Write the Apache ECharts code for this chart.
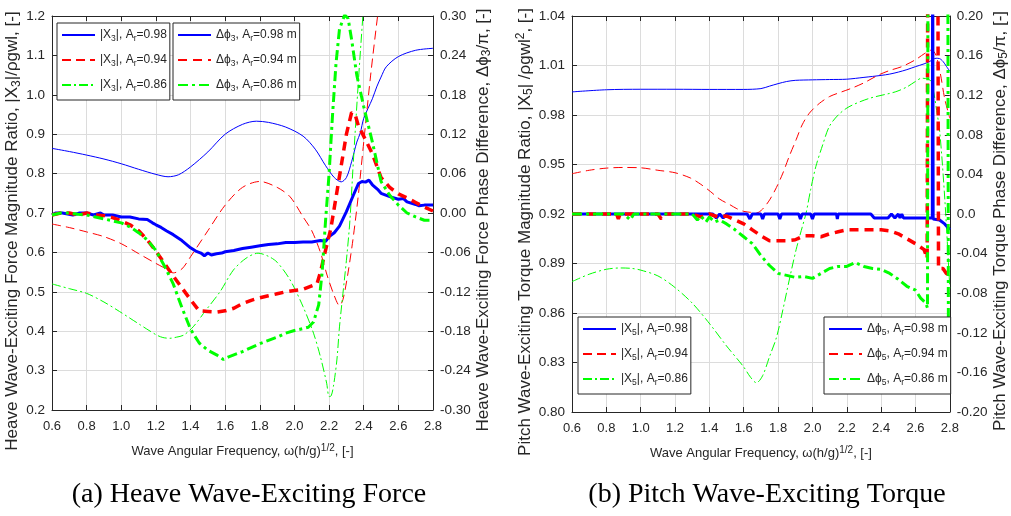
<!DOCTYPE html>
<html><head><meta charset="utf-8">
<script src="https://cdn.jsdelivr.net/npm/echarts@6/dist/echarts.min.js"></script>
<style>html,body{margin:0;padding:0;background:#fff}#c{width:1011px;height:516px}</style>
</head><body><div id="c"></div><script>
// ---------- (a) Heave: magnitude ratios (left axis) ----------
const hX98 = [0.6,0.7,0.8,0.9,1.0,1.1,1.2,1.27,1.33,1.4,1.5,1.6,1.7,1.78,1.85,1.95,2.05,2.12,2.18,2.23,2.27,2.3,2.33,2.36,2.38,2.4,2.45,2.475,2.5,2.53,2.6,2.7,2.8];
const hMag98 = [0.864,0.856,0.847,0.837,0.825,0.811,0.798,0.792,0.797,0.817,0.855,0.9,0.925,0.933,0.93,0.918,0.895,0.862,0.82,0.79,0.779,0.79,0.83,0.88,0.903,0.94,0.99,1.02,1.045,1.071,1.097,1.113,1.118];
const hX94 = [0.6,0.7,0.8,0.9,1.0,1.1,1.2,1.26,1.3,1.35,1.4,1.5,1.6,1.7,1.8,1.9,1.975,2.05,2.1,2.15,2.19,2.23,2.26,2.28,2.31,2.34,2.37,2.4,2.44,2.48,2.5];
const hMag94 = [0.672,0.663,0.652,0.64,0.622,0.597,0.572,0.558,0.548,0.558,0.589,0.655,0.72,0.765,0.78,0.765,0.741,0.69,0.655,0.6,0.54,0.49,0.465,0.48,0.55,0.64,0.75,0.88,1.05,1.2,1.27];
const hX86 = [0.6,0.7,0.8,0.9,0.99,1.05,1.11,1.16,1.205,1.24,1.28,1.32,1.36,1.415,1.49,1.57,1.647,1.72,1.79,1.85,1.9,1.975,2.05,2.11,2.15,2.186,2.2,2.212,2.225,2.245,2.26,2.28,2.3,2.32,2.34,2.37,2.395,2.41];
const hMag86 = [0.52,0.508,0.496,0.474,0.45,0.433,0.416,0.402,0.39,0.384,0.382,0.385,0.39,0.411,0.454,0.50,0.555,0.585,0.598,0.59,0.575,0.53,0.462,0.395,0.335,0.268,0.234,0.236,0.26,0.327,0.411,0.496,0.58,0.68,0.83,1.04,1.2,1.29];
// ---------- (a) Heave: phase differences (right axis) ----------
const hPX98 = [0.6,0.62,0.66,0.72,0.76,0.8,0.84,0.88,0.9,0.95,1.0,1.05,1.1,1.15,1.18,1.2,1.23,1.26,1.3,1.35,1.4,1.43,1.46,1.48,1.5,1.52,1.55,1.58,1.6,1.65,1.7,1.75,1.8,1.85,1.9,1.95,2.0,2.05,2.1,2.15,2.18,2.2,2.23,2.26,2.3,2.34,2.37,2.39,2.41,2.43,2.45,2.48,2.5,2.55,2.6,2.63,2.65,2.7,2.72,2.75,2.8];
const hPh98 = [-0.003,0,0,-0.003,0,0,-0.003,0,-0.003,-0.003,-0.006,-0.006,-0.009,-0.010,-0.015,-0.018,-0.022,-0.027,-0.033,-0.042,-0.053,-0.058,-0.061,-0.065,-0.061,-0.064,-0.062,-0.061,-0.059,-0.057,-0.054,-0.052,-0.050,-0.048,-0.047,-0.045,-0.045,-0.044,-0.044,-0.042,-0.043,-0.036,-0.030,-0.020,0.002,0.027,0.045,0.048,0.047,0.050,0.043,0.036,0.030,0.025,0.021,0.022,0.017,0.013,0.011,0.012,0.012];
const hPX94 = [0.6,0.65,0.7,0.75,0.8,0.85,0.9,0.95,1.0,1.05,1.1,1.15,1.2,1.25,1.3,1.35,1.4,1.45,1.5,1.55,1.6,1.65,1.7,1.75,1.8,1.85,1.9,1.95,2.0,2.05,2.1,2.13,2.15,2.18,2.21,2.24,2.27,2.3,2.33,2.35,2.37,2.4,2.45,2.5,2.55,2.6,2.65,2.7,2.75,2.8];
const hPh94 = [-0.003,0,0,-0.003,0,-0.003,-0.004,-0.007,-0.012,-0.018,-0.027,-0.041,-0.058,-0.077,-0.096,-0.114,-0.132,-0.149,-0.150,-0.151,-0.149,-0.145,-0.138,-0.133,-0.129,-0.126,-0.123,-0.120,-0.118,-0.116,-0.111,-0.108,-0.090,-0.056,-0.024,0.024,0.072,0.120,0.153,0.150,0.132,0.117,0.090,0.054,0.039,0.029,0.023,0.016,0.009,0.003];
const hPX86 = [0.6,0.65,0.7,0.75,0.8,0.85,0.9,0.95,1.0,1.05,1.1,1.15,1.2,1.25,1.3,1.35,1.4,1.45,1.5,1.55,1.59,1.62,1.65,1.7,1.75,1.8,1.85,1.9,1.95,2.0,2.05,2.08,2.11,2.14,2.16,2.18,2.2,2.22,2.24,2.26,2.29,2.31,2.33,2.36,2.4,2.45,2.5,2.55,2.6,2.65,2.7,2.75,2.8];
const hPh86 = [-0.003,0,0,-0.002,-0.003,-0.006,-0.009,-0.012,-0.015,-0.021,-0.030,-0.041,-0.057,-0.081,-0.108,-0.144,-0.177,-0.198,-0.209,-0.216,-0.223,-0.219,-0.216,-0.211,-0.205,-0.199,-0.194,-0.189,-0.183,-0.179,-0.176,-0.174,-0.166,-0.140,-0.090,-0.010,0.060,0.150,0.228,0.280,0.302,0.296,0.264,0.210,0.162,0.108,0.048,0.027,0.012,0,-0.006,-0.011,-0.011];

// ---------- (b) Pitch: magnitude ratios (left axis) ----------
const pX98 = [0.6,0.8,1.0,1.2,1.4,1.6,1.7,1.75,1.8,1.85,1.9,2.0,2.1,2.2,2.3,2.4,2.45,2.5,2.55,2.6,2.65,2.68,2.72,2.74,2.76,2.78,2.8];
const pMag98 = [0.994,0.9953,0.9956,0.9956,0.9955,0.9955,0.996,0.9975,0.999,1.0003,1.001,1.0013,1.0015,1.0017,1.0028,1.004,1.0048,1.006,1.0075,1.0093,1.011,1.0123,1.0144,1.0142,1.0125,1.0095,1.0065];
const pX94 = [0.6,0.7,0.8,0.9,1.0,1.1,1.2,1.29,1.35,1.405,1.46,1.52,1.56,1.6,1.64,1.674,1.71,1.751,1.79,1.828,1.865,1.905,1.94,1.982,2.04,2.1,2.17,2.23,2.3,2.386,2.45,2.52,2.6,2.655,2.694,2.72,2.745,2.77,2.8];
const pMag94 = [0.9444,0.9465,0.9478,0.9482,0.948,0.9465,0.945,0.9418,0.938,0.9337,0.929,0.9256,0.9232,0.9216,0.921,0.9206,0.923,0.9286,0.936,0.9448,0.955,0.965,0.974,0.9811,0.987,0.9912,0.994,0.9963,0.9995,1.0043,1.007,1.0093,1.0135,1.0174,1.0194,1.016,1.005,0.99,0.978];
const pX86 = [0.6,0.7,0.8,0.885,0.95,1.0,1.1,1.193,1.3,1.405,1.5,1.597,1.64,1.674,1.71,1.751,1.79,1.828,1.865,1.905,1.935,1.963,1.99,2.02,2.06,2.098,2.15,2.213,2.329,2.482,2.55,2.598,2.636,2.675,2.69,2.704,2.72,2.742,2.771,2.79,2.8];
const pMag86 = [0.879,0.8835,0.8865,0.8873,0.887,0.886,0.8825,0.876,0.866,0.853,0.84,0.8277,0.821,0.8177,0.822,0.8338,0.845,0.862,0.88,0.8984,0.91,0.9206,0.935,0.9488,0.962,0.973,0.98,0.985,0.990,0.994,0.997,1.0002,1.0023,1.0017,1.0005,0.995,0.985,0.969,0.9286,0.894,0.875];
// ---------- (b) Pitch: phase differences (right axis) ----------
const pPX98 = [0.6,1.42,1.44,1.46,1.48,1.5,1.62,1.636,1.65,1.7,1.71,1.72,1.8,1.81,1.82,1.92,1.93,1.94,1.99,2.0,2.01,2.14,2.145,2.15,2.34,2.36,2.44,2.46,2.48,2.5,2.51,2.52,2.53,2.54,2.698,2.7,2.701,2.703,2.74,2.77,2.8];
const pPh98 = [0,0,-0.004,0,-0.004,0,0,-0.005,0,0,-0.005,0,0,-0.005,0,0,-0.005,0,0,-0.005,0,0,-0.005,0,0,-0.004,-0.004,0,-0.004,0,-0.004,0,-0.004,-0.004,-0.004,0.3,0.3,-0.005,-0.006,-0.010,-0.016];
const pPX94 = [0.6,0.86,0.87,0.88,1.1,1.12,1.14,1.3,1.35,1.4,1.45,1.5,1.55,1.6,1.65,1.7,1.75,1.8,1.85,1.9,1.95,2.0,2.05,2.1,2.15,2.2,2.25,2.3,2.35,2.4,2.45,2.5,2.55,2.6,2.65,2.668,2.672,2.73,2.734,2.76,2.78,2.8];
const pPh94 = [0,0,-0.005,0,0,-0.005,0,0,-0.003,0,-0.003,-0.002,-0.006,-0.010,-0.016,-0.022,-0.027,-0.027,-0.027,-0.026,-0.022,-0.022,-0.023,-0.020,-0.018,-0.016,-0.016,-0.016,-0.016,-0.016,-0.017,-0.020,-0.025,-0.030,-0.036,-0.045,0.3,0.3,-0.055,-0.055,-0.060,-0.062];
const pPX86 = [0.6,0.9,0.94,0.96,1.3,1.33,1.35,1.38,1.4,1.43,1.46,1.5,1.55,1.6,1.65,1.7,1.75,1.8,1.85,1.9,1.95,2.0,2.05,2.1,2.15,2.2,2.25,2.3,2.35,2.4,2.45,2.5,2.55,2.6,2.63,2.66,2.67,2.673,2.788,2.792];
const pPh86 = [0,0,-0.006,0,0,-0.006,-0.002,-0.008,-0.003,-0.008,-0.006,-0.010,-0.016,-0.023,-0.030,-0.042,-0.052,-0.060,-0.062,-0.064,-0.063,-0.065,-0.060,-0.055,-0.053,-0.053,-0.049,-0.053,-0.055,-0.056,-0.060,-0.066,-0.073,-0.077,-0.085,-0.090,-0.095,0.3,0.3,-0.165];

// ---------- legend labels & captions ----------
const legendText = {
  h_m98:'|X{s|3}|, A{s|r}=0.98', h_m94:'|X{s|3}|, A{s|r}=0.94', h_m86:'|X{s|3}|, A{s|r}=0.86',
  h_p98:'Δϕ{s|3}, A{s|r}=0.98 m', h_p94:'Δϕ{s|3}, A{s|r}=0.94 m', h_p86:'Δϕ{s|3}, A{s|r}=0.86 m',
  p_m98:'|X{s|5}|, A{s|r}=0.98', p_m94:'|X{s|5}|, A{s|r}=0.94', p_m86:'|X{s|5}|, A{s|r}=0.86',
  p_p98:'Δϕ{s|5}, A{s|r}=0.98 m', p_p94:'Δϕ{s|5}, A{s|r}=0.94 m', p_p86:'Δϕ{s|5}, A{s|r}=0.86 m'
};
const captionA = '(a) Heave Wave-Exciting Force';
const captionB = '(b) Pitch Wave-Exciting Torque';

const FONT = '"Liberation Sans", Arial, sans-serif';
const TXT = '#262626';
const zip = (xs, ys) => xs.map((x, i) => [x, ys[i]]);
const BLUE = '#0000ff', RED = '#ff0000', GREEN = '#00ff00';
const DASH = [9, 5], DASHDOT = [9, 3, 2, 3], TDASH = [9, 6], TDASHDOT = [10, 4, 3, 4];

function line(name, xs, ys, xi, yi, color, width, type, smooth) {
  return {type:'line', name, xAxisIndex:xi, yAxisIndex:yi, data:zip(xs, ys),
    symbol:'none', showSymbol:false, smooth:smooth||false, clip:true, animation:false,
    lineStyle:{color, width, type}, itemStyle:{color}, emphasis:{disabled:true}};
}

const richN = {
  s:{fontFamily:FONT, fontSize:12, color:TXT, padding:[8,0,0,0]},
  u:{fontFamily:FONT, fontSize:12, color:TXT, padding:[0,0,9,0]}
};
const vNameStyle = pad => ({fontFamily:FONT, fontSize:17, color:TXT, rich:richN, padding:[0,pad,0,0]});
const hNameStyle = {fontFamily:FONT, fontSize:13, color:TXT, rich:{
  u:{fontFamily:FONT, fontSize:10, color:TXT, padding:[0,0,7,0]}}};
const fix = d => v => { if (Math.abs(v) < 1e-9) v = 0; return v.toFixed(d); };

function xAxes(grid) {
  return [
    {gridIndex:grid, type:'value', min:0.6, max:2.8, interval:0.2, position:'bottom',
      name:'Wave Angular Frequency, ω(h/g){u|1/2}, [-]', nameLocation:'middle', nameGap:33,
      nameTextStyle:hNameStyle,
      axisLine:{onZero:false, lineStyle:{color:TXT, width:1}}, axisTick:{inside:true, length:5, lineStyle:{color:TXT}},
      axisLabel:{fontFamily:FONT, fontSize:13, color:TXT, margin:10, formatter:fix(1)},
      splitLine:{show:true, lineStyle:{color:'#dcdcdc', width:1}}},
    {gridIndex:grid, type:'value', min:0.6, max:2.8, interval:0.2, position:'top',
      axisLine:{onZero:false, lineStyle:{color:TXT, width:1}}, axisTick:{inside:true, length:5, lineStyle:{color:TXT}},
      axisLabel:{show:false}, splitLine:{show:false}}
  ];
}
function yAxis(grid, pos, min, max, interval, fmt, name, gap, pad, split) {
  return {gridIndex:grid, type:'value', position:pos, min, max, interval,
    name, nameLocation:'middle', nameRotate:90, nameGap:gap, nameTextStyle:vNameStyle(pad),
    axisLine:{show:true, onZero:false, lineStyle:{color:TXT, width:1}},
    axisTick:{show:true, inside:true, length:5, lineStyle:{color:TXT}},
    axisLabel:{fontFamily:FONT, fontSize:13.5, color:TXT, margin:7, formatter:fmt},
    splitLine:{show:split, lineStyle:{color:'#dcdcdc', width:1}}};
}
function legend(names, left, top) {
  return {show:true, data:names, orient:'vertical', left, top, selectedMode:false,
    itemWidth:33, itemHeight:14, itemGap:11, padding:[6,3,7,4],
    backgroundColor:'#fff', borderColor:TXT, borderWidth:1, borderRadius:0,
    itemStyle:{opacity:0},
    textStyle:{fontFamily:FONT, fontSize:12, color:TXT, rich:{s:{fontFamily:FONT, fontSize:8.5, color:TXT, padding:[7,0,0,0]}}},
    formatter:n => legendText[n]};
}

const option = {
  backgroundColor:'#fff', animation:false,
  grid:[{left:52, top:16, width:381, height:394}, {left:572, top:16, width:381, height:396}],
  xAxis:[...xAxes(0), ...xAxes(1)],
  yAxis:[
    yAxis(0, 'left', 0.2, 1.2, 0.1, fix(1), 'Heave Wave-Exciting Force Magnitude Ratio, |X{s|3}|/ρgwl, [-]', 25, 36, true),
    yAxis(0, 'right', -0.3, 0.3, 0.06, fix(2), 'Heave Wave-Exciting Force Phase Difference, Δϕ{s|3}/π, [-]', 35, 14, false),
    yAxis(1, 'left', 0.8, 1.04, 0.03, fix(2), 'Pitch Wave-Exciting Torque Magnitude Ratio, |X{s|5}| /ρgwl{u|2}, [-]', 31, 36, true),
    yAxis(1, 'right', -0.2, 0.2, 0.04, v => Math.abs(v) < 1e-9 ? '0.0' : v.toFixed(2), 'Pitch Wave-Exciting Torque Phase Difference, Δϕ{s|5}/π, [-]', 32, 14, false)
  ],
  legend:[
    legend(['h_m98','h_m94','h_m86'], 57, 23),
    legend(['h_p98','h_p94','h_p86'], 173, 23),
    legend(['p_m98','p_m94','p_m86'], 578, 317),
    legend(['p_p98','p_p94','p_p86'], 824, 317)
  ],
  title:[
    {text:captionA, left:244, top:476, textAlign:'center', textStyle:{fontFamily:'"Liberation Serif","DejaVu Serif",serif', fontSize:28, fontWeight:'normal', color:'#000'}},
    {text:captionB, left:762, top:476, textAlign:'center', textStyle:{fontFamily:'"Liberation Serif","DejaVu Serif",serif', fontSize:28, fontWeight:'normal', color:'#000'}}
  ],
  series:[
    line('h_m98', hX98, hMag98, 0, 0, BLUE, 1, 'solid', 0.3),
    line('h_m94', hX94, hMag94, 0, 0, RED, 1, DASH, 0.3),
    line('h_m86', hX86, hMag86, 0, 0, GREEN, 1, DASHDOT, 0.3),
    line('h_p98', hPX98, hPh98, 0, 1, BLUE, 3, 'solid'),
    line('h_p94', hPX94, hPh94, 0, 1, RED, 3.5, TDASH),
    line('h_p86', hPX86, hPh86, 0, 1, GREEN, 3, TDASHDOT),
    line('p_m98', pX98, pMag98, 2, 2, BLUE, 1, 'solid', 0.3),
    line('p_m94', pX94, pMag94, 2, 2, RED, 1, DASH, 0.3),
    line('p_m86', pX86, pMag86, 2, 2, GREEN, 1, DASHDOT, 0.3),
    line('p_p98', pPX98, pPh98, 2, 3, BLUE, 3, 'solid'),
    line('p_p94', pPX94, pPh94, 2, 3, RED, 3.5, TDASH),
    line('p_p86', pPX86, pPh86, 2, 3, GREEN, 3, TDASHDOT)
  ]
};
const chart = echarts.init(document.getElementById('c'), null, {renderer:'canvas'});
chart.setOption(option);
</script></body></html>
